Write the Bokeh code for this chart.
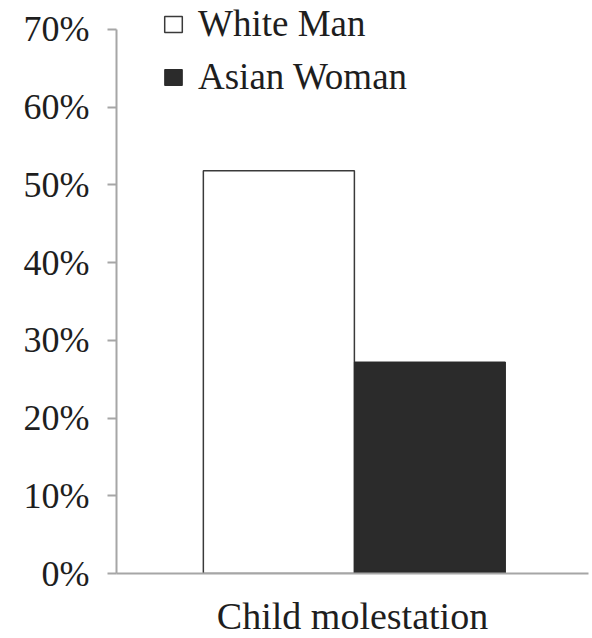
from bokeh.plotting import figure
from bokeh.models import (FactorRange, Range1d, ColumnDataSource, Legend, LegendItem,
                          FixedTicker, PrintfTickFormatter)
from bokeh.transform import dodge
from bokeh.embed import file_html
from bokeh.resources import INLINE

categories = ["Child molestation"]
white_man = [51.8]
asian_woman = [27.2]
y_ticks = [0, 10, 20, 30, 40, 50, 60, 70]

FONT = "'Liberation Serif', 'Times New Roman', serif"
AXIS_COLOR = "#a6a6a6"
TEXT_COLOR = "#1e1e1e"

src = ColumnDataSource(dict(cat=categories, white=white_man, asian=asian_woman))

p = figure(frame_width=472, frame_height=573, output_backend="svg", toolbar_location=None,
           x_range=FactorRange(factors=categories), y_range=Range1d(0, 73.7),
           min_border_left=116, min_border_right=4, min_border_top=0, min_border_bottom=50)
p.outline_line_color = None
p.xgrid.grid_line_color = None
p.ygrid.grid_line_color = None
p.background_fill_color = "white"
p.border_fill_color = "white"

r1 = p.vbar(x=dodge("cat", -0.156, range=p.x_range), top="white", width=0.32, source=src,
            fill_color="white", line_color="#3a3a3a", line_width=1.5)
r2 = p.vbar(x=dodge("cat", 0.164, range=p.x_range), top="asian", width=0.32, source=src,
            fill_color="#2b2b2b", line_color="#2b2b2b", line_width=1)

# y axis
ya = p.yaxis[0]
ya.ticker = FixedTicker(ticks=y_ticks)
ya.formatter = PrintfTickFormatter(format="%d%%")
ya.bounds = (0, 70)
ya.axis_line_color = AXIS_COLOR
ya.axis_line_width = 2
ya.major_tick_line_color = AXIS_COLOR
ya.major_tick_line_width = 2
ya.major_tick_out = 9
ya.major_tick_in = 0
ya.minor_tick_line_color = None
ya.major_label_standoff = 18
ya.major_label_text_font = FONT
ya.major_label_text_font_size = "36px"
ya.major_label_text_color = TEXT_COLOR

# x axis
xa = p.xaxis[0]
xa.axis_line_color = AXIS_COLOR
xa.axis_line_width = 2
xa.major_tick_line_color = None
xa.minor_tick_line_color = None
xa.major_label_standoff = 15
xa.major_label_text_font = FONT
xa.major_label_text_font_size = "38px"
xa.major_label_text_color = TEXT_COLOR

legend = Legend(items=[LegendItem(label="White Man", renderers=[r1]),
                       LegendItem(label="Asian Woman", renderers=[r2])],
                location=(46, 475), orientation="vertical",
                border_line_color=None, background_fill_alpha=0,
                padding=0, margin=0, spacing=10, label_standoff=14,
                glyph_width=22, glyph_height=20,
                label_text_font=FONT, label_text_font_size="37px",
                label_text_color=TEXT_COLOR)
p.add_layout(legend, "center")

open("out.html", "w").write(file_html(p, INLINE))
